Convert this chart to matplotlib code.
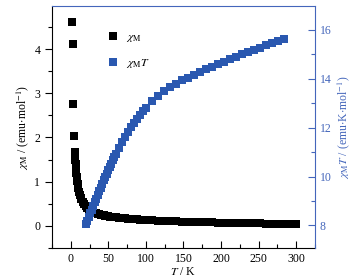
import matplotlib
matplotlib.use('Agg')
from matplotlib import pyplot as plt
from matplotlib.ticker import MultipleLocator

plt.rcParams['font.family'] = ['Liberation Serif', 'DejaVu Serif']
plt.rcParams['mathtext.fontset'] = 'stix'
plt.rcParams['font.size'] = 8.5

# chi_M data (black squares)
t_chi = [2, 2.5, 3.5, 4.5, 5, 6, 6.5, 7, 7.5, 8, 8.5, 9, 10, 11, 12, 13, 14, 16, 18,
         20, 22, 24, 26, 28, 30, 32, 34, 36, 38, 40, 42, 44, 46, 48, 50, 52, 54, 56, 58, 60,
         64, 68, 72, 76, 80, 84, 88, 92, 96, 100,
         108, 116, 124, 132, 140, 148, 156, 164, 172, 180, 188, 196, 204, 212, 220,
         228, 236, 244, 252, 260, 268, 276, 284, 292, 300]
chi = [4.6, 4.12, 2.75, 2.04, 1.66, 1.5, 1.4, 1.3, 1.2, 1.1, 1.02, 0.95, 0.85, 0.77, 0.7, 0.64, 0.6, 0.54, 0.49,
       0.45, 0.41, 0.38, 0.355, 0.335, 0.315, 0.3, 0.287, 0.275, 0.265, 0.255, 0.246, 0.238, 0.23, 0.223,
       0.216, 0.21, 0.205, 0.2, 0.195, 0.19,
       0.182, 0.175, 0.168, 0.162, 0.157, 0.152, 0.147, 0.143, 0.139, 0.135,
       0.127, 0.12, 0.113, 0.107, 0.101, 0.096, 0.092, 0.088, 0.084, 0.08, 0.077, 0.074, 0.071, 0.068, 0.065,
       0.062, 0.06, 0.057, 0.055, 0.052, 0.05, 0.047, 0.045, 0.042, 0.04]

# chi_M*T data (blue squares)
t_chit = [20, 22, 24, 26, 28, 30, 32, 34, 36, 38, 40, 42, 44, 46, 48, 50, 52, 54, 56, 58, 60,
          64, 68, 72, 76, 80, 84, 88, 92, 96, 100,
          108, 116, 124, 132, 140, 148, 156, 164, 172, 180, 188, 196, 204, 212, 220,
          228, 236, 244, 252, 260, 268, 276, 284]
chit = [8.05, 8.2, 8.35, 8.5, 8.65, 8.8, 8.95, 9.1, 9.25, 9.4, 9.55, 9.7, 9.85, 9.98, 10.12, 10.26,
        10.4, 10.53, 10.66, 10.79, 10.92,
        11.17, 11.4, 11.62, 11.83, 12.02, 12.2, 12.37, 12.53, 12.68, 12.82,
        13.07, 13.29, 13.48, 13.65, 13.8, 13.93, 14.05, 14.16, 14.27, 14.38, 14.49, 14.6, 14.7, 14.8, 14.9,
        15.0, 15.09, 15.18, 15.27, 15.36, 15.45, 15.54, 15.63]

blue = '#2a58b0'
axblue = '#4466bb'

fig = plt.figure(figsize=(3.59, 2.78), dpi=100)
ax = fig.add_axes([0.145, 0.108, 0.732, 0.870])
ax2 = ax.twinx()

l1, = ax.plot(t_chi, chi, 's', color='black', markersize=5.6, markeredgewidth=0, label=r'$\chi_{\rm M}$')
l2, = ax2.plot(t_chit, chit, 's', color=blue, markersize=5.6, markeredgewidth=0, label=r'$\chi_{\rm M}T$')

ax.set_xlim(-25, 325)
ax.set_ylim(-0.5, 4.97)
ax2.set_ylim(7.08, 16.97)

ax.xaxis.set_major_locator(MultipleLocator(50))
ax.xaxis.set_minor_locator(MultipleLocator(25))
ax.yaxis.set_major_locator(MultipleLocator(1))
ax.yaxis.set_minor_locator(MultipleLocator(0.5))
ax2.yaxis.set_major_locator(MultipleLocator(2))
ax2.yaxis.set_minor_locator(MultipleLocator(1))

ax.tick_params(axis='x', which='both', direction='in', top=False)
ax.tick_params(axis='x', which='major', length=5, width=0.8)
ax.tick_params(axis='x', which='minor', length=3, width=0.8)
ax.tick_params(axis='y', which='major', direction='out', length=5, width=0.8)
ax.tick_params(axis='y', which='minor', direction='out', length=3, width=0.8)
ax2.tick_params(axis='y', which='major', direction='in', length=5, width=0.8, colors=axblue)
ax2.tick_params(axis='y', which='minor', direction='in', length=3, width=0.8, colors=axblue)

for side in ['left', 'bottom']:
    ax2.spines[side].set_visible(False)
ax2.spines['right'].set_color(axblue)
ax2.spines['top'].set_color(axblue)
ax.spines['right'].set_visible(False)
ax.spines['top'].set_visible(False)

ax.set_xlabel(r'$T$ / K', labelpad=1)
ax.set_ylabel(r'$\chi_{\rm M}$ / (emu$\cdot$mol$^{-1}$)', labelpad=2)
ax2.set_ylabel(r'$\chi_{\rm M}T$ / (emu$\cdot$K$\cdot$mol$^{-1}$)', color=axblue, labelpad=3)

ax.legend(handles=[l1, l2], loc='upper left', bbox_to_anchor=(0.17, 0.94), frameon=False,
          handlelength=1.0, handletextpad=0.6, labelspacing=1.1, numpoints=1, markerscale=1.0)

fig.savefig('out.png', dpi=100)
